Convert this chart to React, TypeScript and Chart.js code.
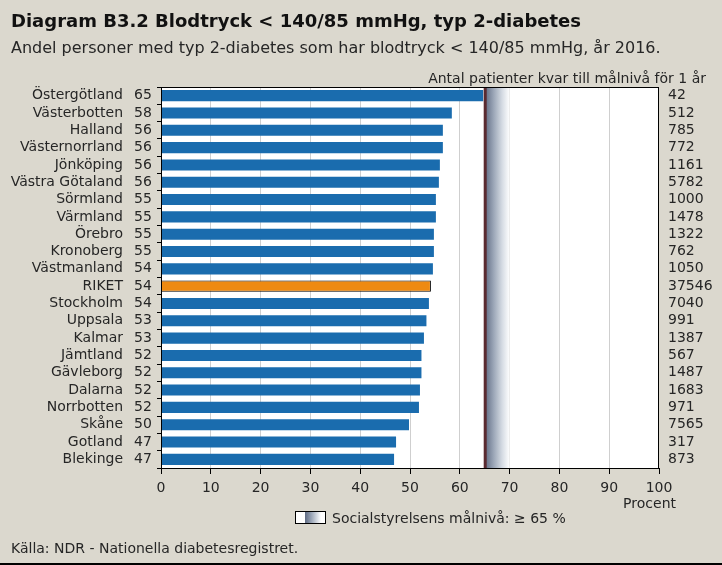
import React, { useEffect, useRef } from "react";
import { Chart, registerables } from "chart.js";

Chart.register(...registerables);

const regions = [
  "Östergötland", "Västerbotten", "Halland", "Västernorrland", "Jönköping",
  "Västra Götaland", "Sörmland", "Värmland", "Örebro", "Kronoberg",
  "Västmanland", "RIKET", "Stockholm", "Uppsala", "Kalmar", "Jämtland",
  "Gävleborg", "Dalarna", "Norrbotten", "Skåne", "Gotland", "Blekinge",
];
const values = [
  64.7, 58.4, 56.6, 56.6, 56.0, 55.8, 55.2, 55.2, 54.8, 54.8, 54.6, 54.2,
  53.8, 53.3, 52.8, 52.3, 52.3, 52.0, 51.8, 49.8, 47.2, 46.8,
];
const roundedLabels = [
  "65", "58", "56", "56", "56", "56", "55", "55", "55", "55", "54", "54",
  "54", "53", "53", "52", "52", "52", "52", "50", "47", "47",
];
const patientsLeft = [
  "42", "512", "785", "772", "1161", "5782", "1000", "1478", "1322", "762",
  "1050", "37546", "7040", "991", "1387", "567", "1487", "1683", "971",
  "7565", "317", "873",
];
const xTicks = [0, 10, 20, 30, 40, 50, 60, 70, 80, 90, 100];
const targetLevel = 65;
const bandEnd = 69;

const TITLE = "Diagram B3.2 Blodtryck < 140/85 mmHg, typ 2-diabetes";
const SUBTITLE = "Andel personer med typ 2-diabetes som har blodtryck < 140/85 mmHg, år 2016.";
const RIGHT_HEADER = "Antal patienter kvar till målnivå för 1 år";
const LEGEND_TEXT = "Socialstyrelsens målnivå: ≥ 65 %";
const SOURCE = "Källa: NDR - Nationella diabetesregistret.";
const X_TITLE = "Procent";

const FONT = "'DejaVu Sans', sans-serif";
const BG = "#dbd8ce";
const TEXT = "#262626";

export default function App() {
  const ref = useRef<HTMLCanvasElement | null>(null);

  useEffect(() => {
    document.body.style.margin = "0";
    const canvas = ref.current!;
    const bandPlugin = {
      id: "band",
      beforeDraw(chart: any) {
        const { ctx, width, height } = chart;
        ctx.save();
        ctx.fillStyle = BG;
        ctx.fillRect(0, 0, width, height);
        const ca = chart.chartArea;
        ctx.fillStyle = "#ffffff";
        ctx.fillRect(ca.left, ca.top, ca.right - ca.left, ca.bottom - ca.top);
        ctx.restore();
      },
      beforeDatasetsDraw(chart: any) {
        const { ctx } = chart;
        const ca = chart.chartArea;
        const xs = chart.scales.x;
        const x0 = xs.getPixelForValue(targetLevel);
        const x1 = xs.getPixelForValue(bandEnd + 1);
        ctx.save();
        const g = ctx.createLinearGradient(x0, 0, x1, 0);
        g.addColorStop(0, "#5e6a82");
        g.addColorStop(0.35, "#9aa5b6");
        g.addColorStop(0.7, "#d5dbe3");
        g.addColorStop(1, "#ffffff");
        ctx.fillStyle = g;
        ctx.fillRect(x0, ca.top, x1 - x0, ca.bottom - ca.top);
        ctx.restore();
      },
      afterDatasetsDraw(chart: any) {
        const { ctx } = chart;
        const ca = chart.chartArea;
        const xs = chart.scales.x;
        const ys = chart.scales.y;
        const x0 = xs.getPixelForValue(targetLevel);
        ctx.save();
        ctx.fillStyle = "#5a2a30";
        ctx.fillRect(x0 - 1, ca.top, 3, ca.bottom - ca.top);
        // frame
        ctx.strokeStyle = "#000";
        ctx.lineWidth = 1;
        ctx.strokeRect(ca.left + 0.5, ca.top + 0.5, ca.right - ca.left - 1, ca.bottom - ca.top);
        // labels
        ctx.fillStyle = TEXT;
        ctx.font = `14px ${FONT}`;
        ctx.textBaseline = "middle";
        regions.forEach((r, i) => {
          const y = ys.getPixelForValue(i);
          ctx.textAlign = "right";
          ctx.fillText(r, 123, y);
          ctx.textAlign = "left";
          ctx.fillText(roundedLabels[i], 134, y);
          ctx.fillText(patientsLeft[i], 668, y);
        });
        ctx.restore();
      },
      afterDraw(chart: any) {
        const { ctx, width, height } = chart;
        ctx.save();
        ctx.fillStyle = "#111";
        ctx.textBaseline = "alphabetic";
        ctx.textAlign = "left";
        ctx.font = `bold 18px ${FONT}`;
        ctx.fillText(TITLE, 11, 27);
        ctx.font = `16px ${FONT}`;
        ctx.fillStyle = TEXT;
        ctx.fillText(SUBTITLE, 11, 53);
        ctx.font = `14px ${FONT}`;
        ctx.textAlign = "right";
        ctx.fillText(RIGHT_HEADER, 706, 83);
        ctx.fillText(X_TITLE, 676, 508);
        ctx.textAlign = "left";
        ctx.fillText(LEGEND_TEXT, 332, 523);
        ctx.fillText(SOURCE, 11, 553);
        // legend box
        const bx = 295, by = 511, bw = 30, bh = 12;
        ctx.fillStyle = "#fff";
        ctx.fillRect(bx, by, bw, bh);
        const g = ctx.createLinearGradient(bx + 10, 0, bx + 26, 0);
        g.addColorStop(0, "#5e6a82");
        g.addColorStop(0.4, "#9aa5b6");
        g.addColorStop(1, "#ffffff");
        ctx.fillStyle = g;
        ctx.fillRect(bx + 10, by, 16, bh);
        ctx.strokeStyle = "#000";
        ctx.lineWidth = 1;
        ctx.strokeRect(bx + 0.5, by + 0.5, bw, bh);
        // bottom line
        ctx.fillStyle = "#000";
        ctx.fillRect(0, height - 2, width, 2);
        ctx.restore();
      },
    };

    const chart = new Chart(canvas, {
      type: "bar",
      data: {
        labels: regions,
        datasets: [
          {
            data: values,
            backgroundColor: regions.map((r) => (r === "RIKET" ? "#ee8a12" : "#1a6cae")),
            borderColor: regions.map((r) => (r === "RIKET" ? "#000" : "rgba(0,0,0,0)")),
            borderWidth: regions.map((r) => (r === "RIKET" ? 1 : 0)),
            barPercentage: 0.64,
            categoryPercentage: 1,
          },
        ],
      },
      options: {
        indexAxis: "y",
        responsive: false,
        animation: false,
        events: [],
        layout: { padding: { left: 0, right: 63, top: 87, bottom: 66 } },
        plugins: { legend: { display: false }, tooltip: { enabled: false }, title: { display: false } },
        scales: {
          x: {
            type: "linear",
            min: 0,
            max: 100,
            afterBuildTicks: (s: any) => {
              s.ticks = xTicks.map((v) => ({ value: v }));
            },
            afterFit: (s: any) => {
              s.height = 31;
            },
            border: { display: true, color: "#000", width: 1 },
            grid: {
              color: (c: any) => (c.tick && (c.tick.value === 0 || c.tick.value === 100) ? "rgba(0,0,0,0)" : "#cfcfcf"),
              tickColor: "#000",
              tickLength: 6,
              drawTicks: true,
            },
            ticks: {
              color: TEXT,
              font: { family: FONT, size: 14 },
              padding: 6,
              maxRotation: 0,
            },
          },
          y: {
            type: "category",
            offset: true,
            afterFit: (s: any) => {
              s.width = 161;
            },
            border: { display: true, color: "#000", width: 1 },
            grid: {
              offset: true,
              drawOnChartArea: false,
              tickLength: 4,
              tickColor: "#000",
              color: "#000",
            },
            ticks: { display: false },
          },
        },
      },
      plugins: [bandPlugin],
    } as any);
    return () => chart.destroy();
  }, []);

  return (
    <div style={{ position: "absolute", left: 0, top: 0, width: 722, height: 565 }}>
      <canvas ref={ref} width={722} height={565} style={{ display: "block" }} />
    </div>
  );
}
